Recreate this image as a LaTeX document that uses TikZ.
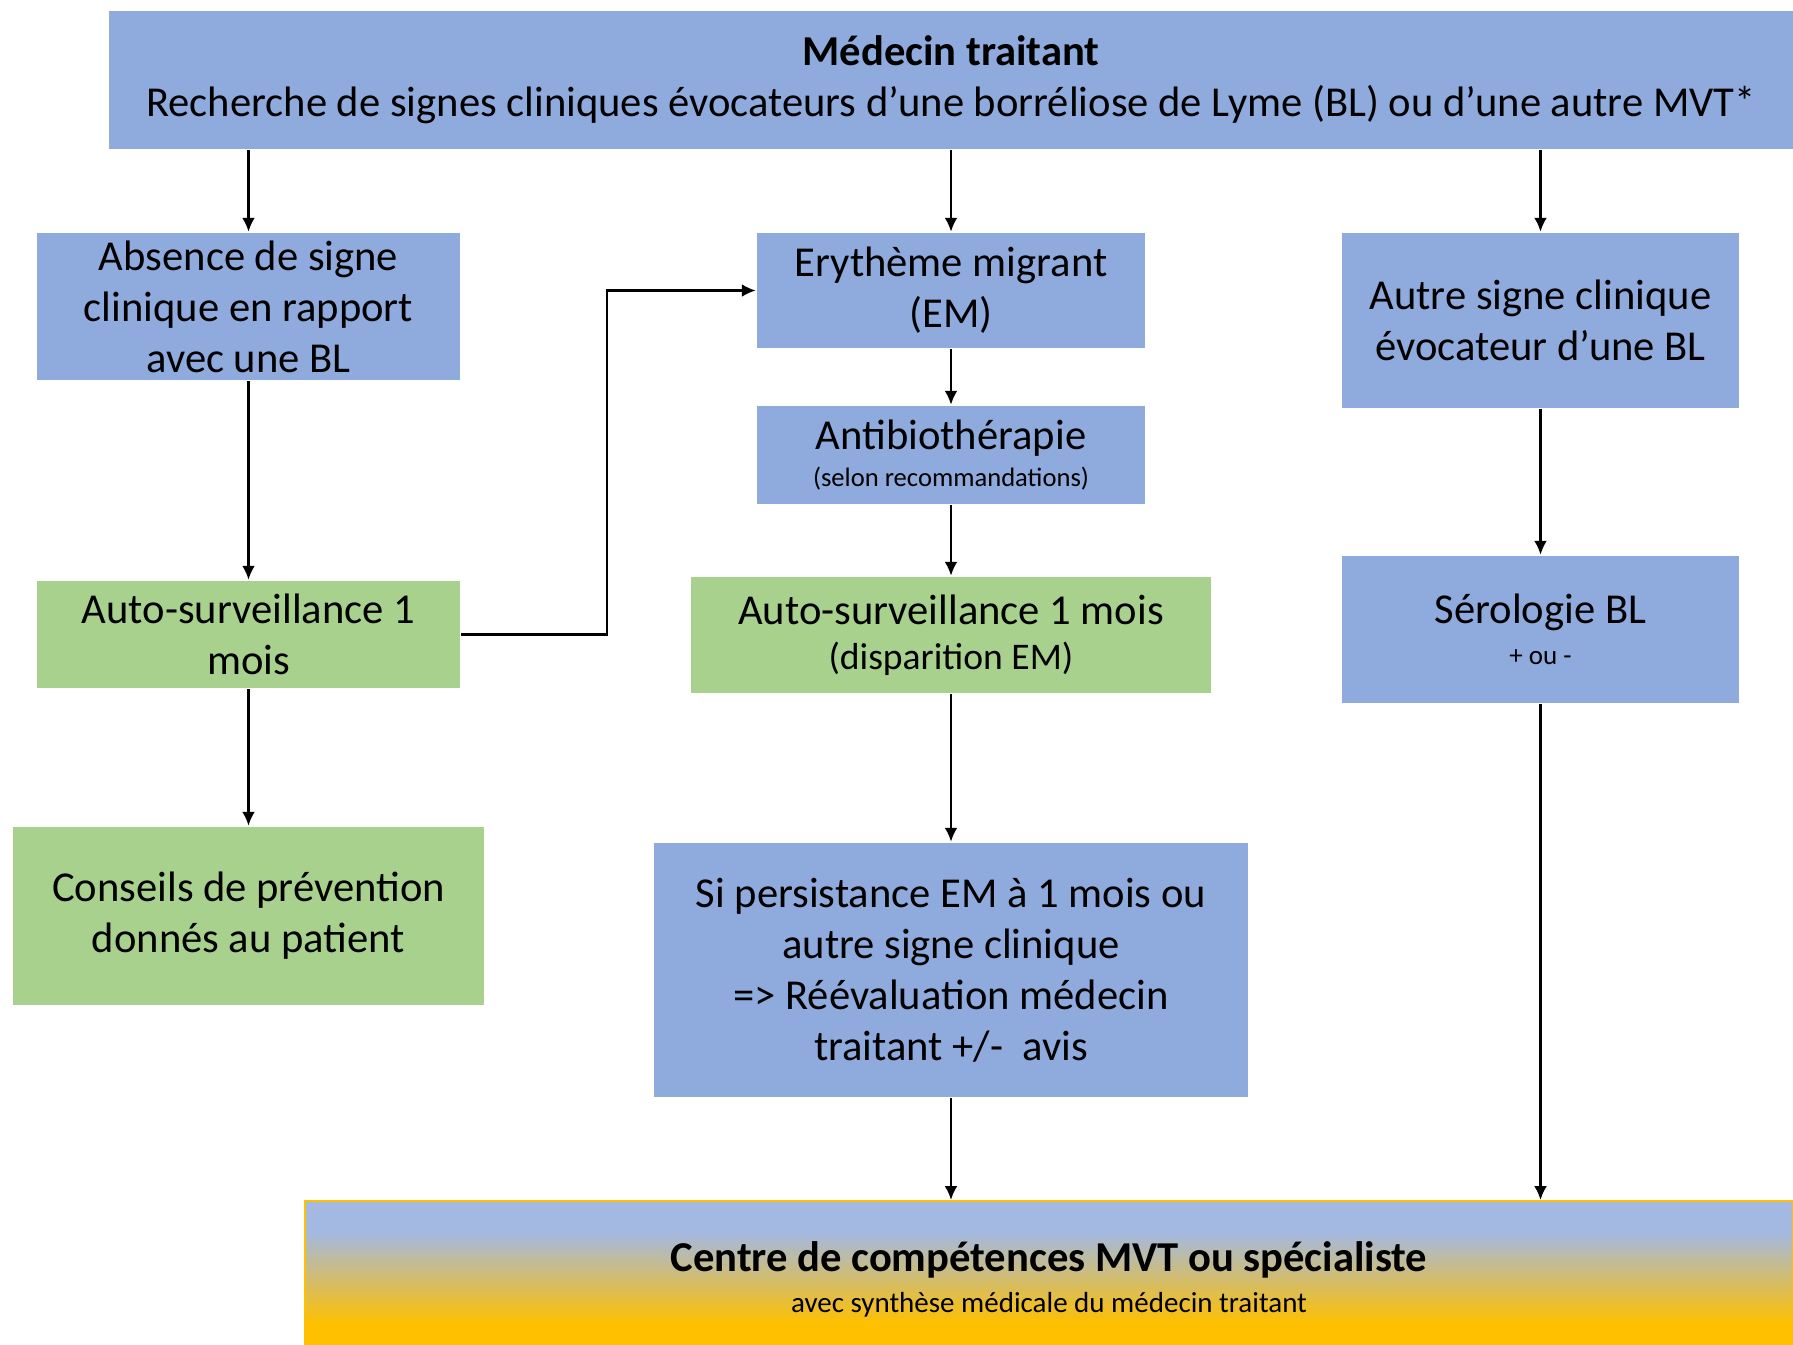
\documentclass[tikz,border=0pt]{standalone}
\usepackage{fontspec}
\setmainfont{Carlito}
\usepackage{tikz}
\usetikzlibrary{arrows.meta}

\definecolor{boxblue}{HTML}{8FAADC}
\definecolor{boxgreen}{HTML}{A9D18E}
\definecolor{lightblue}{HTML}{A3B9E1}
\definecolor{gold}{HTML}{FFC000}
\pgfdeclareverticalshading{centreshade}{100bp}{color(0bp)=(gold); color(36bp)=(gold); color(65bp)=(lightblue); color(100bp)=(lightblue)}

\begin{document}
\begin{tikzpicture}[x=0.5pt,y=-0.5pt,->,>={Latex[length=7pt,width=6.5pt]},line width=1.25pt]
\tikzstyle{every node} = [font=\fontsize{21.3}{25.5}\selectfont, align=center, inner sep=0pt]
\tikzstyle{blue box} = [rectangle, fill=boxblue, minimum width=#1]
\tikzstyle{green box} = [rectangle, fill=boxgreen, minimum width=#1]
\useasboundingbox (0,0) rectangle (1793,1344);
% top and bottom
\node[blue box=842pt, minimum height=69pt] (TOP) at (951,80)
  {\textbf{Médecin traitant}\\Recherche de signes cliniques évocateurs d’une borréliose de Lyme (BL) ou d’une autre MVT*};
\node[rectangle, draw=gold, line width=1pt, shading=centreshade, minimum width=744pt, minimum height=78.5pt] (CENTRE) at (1049,1279.5)
  {\textbf{Centre de compétences MVT ou spécialiste}\\[-5pt]{\fontsize{14.5}{16}\selectfont avec synthèse médicale du médecin traitant}};
% left column
\node[blue box=211.5pt, minimum height=73.5pt] (ABSENCE) at (248.5,306.5)
  {Absence de signe\\clinique en rapport\\avec une BL};
\node[green box=211.5pt, minimum height=53.5pt] (AUTOL) at (248.5,634.5)
  {Auto-surveillance 1\\mois};
\node[green box=235.5pt, minimum height=89pt] (CONSEILS) at (248.5,916)
  {Conseils de prévention\\donnés au patient};
% middle column
\node[blue box=194pt, minimum height=57.5pt] (EM) at (951,290.5)
  {Erythème migrant\\(EM)};
\node[blue box=194pt, minimum height=49pt] (ATB) at (951,455)
  {Antibiothérapie\\[-7pt]{\fontsize{13.3}{15}\selectfont (selon recommandations)}};
\node[green box=260pt, minimum height=58pt] (AUTOM) at (951,635)
  {Auto-surveillance 1 mois\\[-3pt]{\fontsize{18.8}{21}\selectfont (disparition EM)}};
\node[blue box=297pt, minimum height=127pt] (PERSIST) at (951,970)
  {Si persistance EM à 1 mois ou\\autre signe clinique\\=> Réévaluation médecin\\traitant +/-~ avis};
% right column
\node[blue box=198.5pt, minimum height=87.5pt] (AUTRE) at (1540.5,320.5)
  {Autre signe clinique\\évocateur d’une BL};
\node[blue box=198.5pt, minimum height=73.5pt] (SERO) at (1540.5,629.5)
  {Sérologie BL\\[-5pt]{\fontsize{13.5}{15}\selectfont + ou -}};
\coordinate (BEND) at (607,634.5);
\path (ABSENCE |- TOP.south) edge (ABSENCE.north)
      (TOP.south) edge (EM.north)
      (AUTRE |- TOP.south) edge (AUTRE.north)
      (ABSENCE) edge (AUTOL)
      (AUTOL) edge (CONSEILS)
      (EM) edge (ATB)
      (ATB) edge (AUTOM)
      (AUTOM) edge (PERSIST)
      (AUTRE) edge (SERO)
      (PERSIST.south) edge (PERSIST.south |- CENTRE.north)
      (SERO.south) edge (SERO.south |- CENTRE.north);
\draw (AUTOL.east) -- (BEND) |- (EM.west);
\end{tikzpicture}
\end{document}
